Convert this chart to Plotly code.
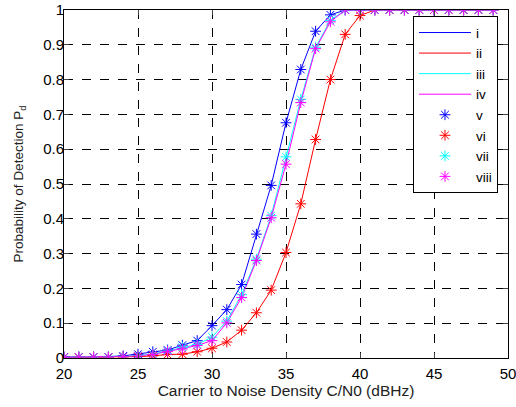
import plotly.graph_objects as go

x = list(range(20, 50))

blue = [0.003, 0.003, 0.003, 0.003, 0.006, 0.011, 0.018, 0.023, 0.037, 0.050,
        0.093, 0.139, 0.211, 0.356, 0.496, 0.676, 0.829, 0.939, 0.986, 1.0,
        1.0, 1.0, 1.0, 1.0, 1.0, 1.0, 1.0, 1.0, 1.0, 1.0]
red = [0.002, 0.002, 0.002, 0.002, 0.003, 0.004, 0.006, 0.010, 0.011, 0.018,
       0.028, 0.046, 0.080, 0.130, 0.195, 0.303, 0.443, 0.628, 0.800, 0.930,
       0.984, 1.0, 1.0, 1.0, 1.0, 1.0, 1.0, 1.0, 1.0, 1.0]
cyan = [0.002, 0.003, 0.003, 0.003, 0.004, 0.007, 0.011, 0.020, 0.031, 0.039,
        0.060, 0.106, 0.182, 0.284, 0.409, 0.578, 0.743, 0.893, 0.970, 1.0,
        1.0, 1.0, 1.0, 1.0, 1.0, 1.0, 1.0, 1.0, 1.0, 1.0]
magenta = [0.002, 0.003, 0.003, 0.003, 0.004, 0.006, 0.010, 0.019, 0.026, 0.036,
           0.050, 0.101, 0.174, 0.280, 0.403, 0.557, 0.734, 0.889, 0.966, 1.0,
           1.0, 1.0, 1.0, 1.0, 1.0, 1.0, 1.0, 1.0, 1.0, 1.0]

series = [blue, red, cyan, magenta]
colors = ["#0000ff", "#ff0000", "#00ffff", "#ff00ff"]
line_names = ["i", "ii", "iii", "iv"]
marker_names = ["v", "vi", "vii", "viii"]

x_ticks = [20, 25, 30, 35, 40, 45, 50]
y_ticks = [0, 0.1, 0.2, 0.3, 0.4, 0.5, 0.6, 0.7, 0.8, 0.9, 1]
y_tick_text = ["0", "0.1", "0.2", "0.3", "0.4", "0.5", "0.6", "0.7", "0.8", "0.9", "1"]

fig = go.Figure()
for ys, c, n in zip(series, colors, line_names):
    fig.add_trace(go.Scatter(x=x, y=ys, mode="lines", name=n,
                             line=dict(color=c, width=1)))
for ys, c, n in zip(series, colors, marker_names):
    fig.add_trace(go.Scatter(x=x, y=ys, mode="markers", name=n,
                             marker=dict(symbol="asterisk-open", size=9,
                                         color=c, line=dict(color=c, width=1))))

font = "Liberation Sans, Arial, sans-serif"
fig.update_layout(
    width=516, height=407,
    margin=dict(l=64, r=8, t=10, b=49),
    paper_bgcolor="white", plot_bgcolor="white",
    font=dict(family=font, size=15, color="#222"),
    showlegend=True,
    legend=dict(x=0.786, y=0.982, xanchor="left", yanchor="top",
                bgcolor="white", bordercolor="black", borderwidth=1,
                font=dict(size=13.5, color="black"), itemwidth=52,
                tracegroupgap=0),
    xaxis=dict(range=[20, 50], tickvals=x_ticks, ticks="inside", ticklen=5,
               ticklabelstandoff=2,
               showline=True, linecolor="black", linewidth=1, mirror="ticks",
               showgrid=True, gridcolor="black", griddash="dash", gridwidth=1,
               zeroline=False, automargin=False, ticklabeloverflow="allow",
               tickfont=dict(size=15, color="black"),
               title=dict(text="Carrier to Noise Density C/N0 (dBHz)",
                          font=dict(size=15.5, color="#222"), standoff=3)),
    yaxis=dict(range=[0, 1], tickvals=y_ticks, ticktext=y_tick_text,
               ticks="inside", ticklen=5, ticklabelstandoff=-4,
               showline=True, linecolor="black", linewidth=1, mirror="ticks",
               showgrid=True, gridcolor="black", griddash="dash", gridwidth=1,
               zeroline=False, automargin=False, ticklabeloverflow="allow",
               tickfont=dict(size=15, color="black"),
               title=dict(text="Probability of Detection P<sub>d</sub>",
                          font=dict(size=13.5, color="#222"), standoff=16)),
)

fig.write_html("out.html")
